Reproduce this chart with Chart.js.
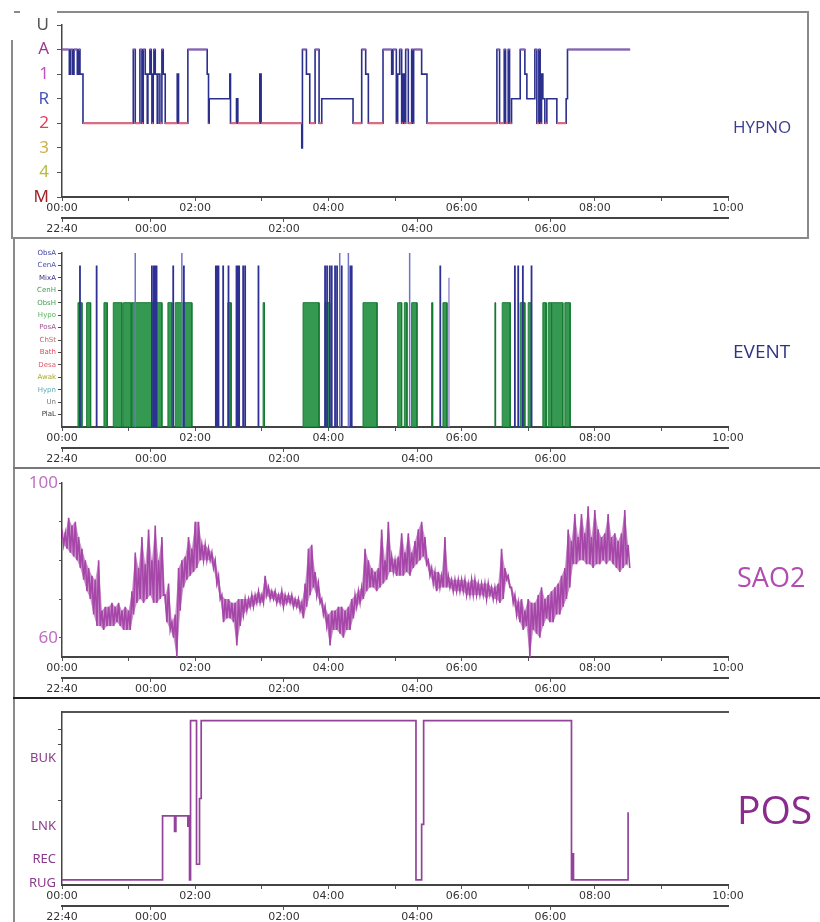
<!DOCTYPE html>
<html><head><meta charset="utf-8">
<script src="https://cdn.jsdelivr.net/npm/chart.js@4/dist/chart.umd.min.js"></script>
<style>
html,body{margin:0;padding:0;background:#fff;}
#wrap{position:relative;width:820px;height:922px;overflow:hidden;background:#fff;}
canvas{position:absolute;left:0;}
.ln{position:absolute;background:#8a8a8a;}
.ttl{position:absolute;font-family:"Open Sans","Noto Sans",sans-serif;white-space:nowrap;line-height:1;}
</style></head><body><div id="wrap">
<canvas id="c1" width="820" height="240" style="top:0px"></canvas>
<canvas id="c2" width="820" height="230" style="top:240px"></canvas>
<canvas id="c3" width="820" height="230" style="top:470px"></canvas>
<canvas id="c4" width="820" height="222" style="top:700px"></canvas>
<div class="ln" style="left:57px;top:11px;width:752px;height:2px"></div>
<div class="ln" style="left:14px;top:11px;width:6px;height:2px"></div>
<div class="ln" style="left:807px;top:11px;width:2px;height:228px"></div>
<div class="ln" style="left:11px;top:40px;width:2px;height:199px"></div>
<div class="ln" style="left:11px;top:237px;width:798px;height:2px"></div>
<div class="ln" style="left:13px;top:239px;width:2px;height:229px"></div>
<div class="ln" style="left:13px;top:467px;width:807px;height:2px;background:#777"></div>
<div class="ln" style="left:13px;top:469px;width:2px;height:229px"></div>
<div class="ln" style="left:13px;top:697px;width:807px;height:2px;background:#222"></div>
<div class="ln" style="left:13px;top:699px;width:2px;height:223px"></div>
<div class="ttl" style="left:733px;top:118px;font-size:17px;color:#3b3d92">HYPNO</div>
<div class="ttl" style="left:733px;top:342px;font-size:19px;color:#2f3288">EVENT</div>
<div class="ttl" style="left:737px;top:563px;font-size:27px;color:#b04cb2">SAO2</div>
<div class="ttl" style="left:737px;top:789px;font-size:39px;color:#8a2c8c">POS</div>
</div>
<script>
// ---------- shared axis labels ----------
const elapsedTickLabels = ['00:00','','02:00','','04:00','','06:00','','08:00','','10:00'];
const clockTickHours = [0, 1.3333, 3.3333, 5.3333, 7.3333];
const clockTickLabels = ['22:40','00:00','02:00','04:00','06:00'];

// ---------- HYPNO ----------
const hypnoStages = ['M','4','3','2','R','1','A','U'];
const hypnoStageColors = ['#a02428','#b5bd3c','#cdb04a','#e0405a','#4a55b5','#c050c0','#9b3a8f','#555555'];
const hypnoTimes = [0.00,0.11,0.13,0.16,0.18,0.23,0.25,0.27,0.315,1.07,1.10,1.17,1.20,1.22,1.25,1.28,1.29,1.32,1.34,1.35,1.37,1.38,1.40,1.43,1.44,1.47,1.50,1.52,1.55,1.73,1.75,1.89,2.18,2.20,2.21,2.52,2.53,2.62,2.64,2.97,2.99,3.60,3.61,3.67,3.72,3.80,3.86,3.90,4.37,4.50,4.56,4.60,4.82,4.95,4.97,5.02,5.04,5.07,5.10,5.12,5.14,5.16,5.20,5.25,5.27,5.28,5.40,5.48,6.53,6.57,6.64,6.66,6.70,6.72,6.75,6.88,6.95,6.98,7.10,7.13,7.16,7.18,7.20,7.22,7.25,7.28,7.43,7.57,7.59,8.53];
const hypnoStage = ['A','1','A','1','A','1','A','1','2','A','2','A','2','A','1','2','1','A','1','2','1','A','1','2','1','2','A','1','2','1','2','A','1','2','R','1','2','R','2','1','2','3','A','1','2','A','2','R','2','A','1','2','A','1','A','2','1','A','2','1','2','A','2','A','2','A','1','2','A','2','A','2','A','2','R','A','1','R','A','2','A','2','1','R','2','R','2','R','A','A'];

// ---------- EVENT ----------
const eventTypes = ['PlaL','Un','Hypn','Awak','Desa','Bath','ChSt','PosA','Hypo','ObsH','CenH','MixA','CenA','ObsA'];
const eventTypeColors = ['#333333','#777777','#5aa8b8','#a8a828','#e05a6a','#e04858','#b86a6a','#a05090','#5cb060','#3f9f50','#3f9f50','#3a2a82','#4a4eb0','#3a3ea0'];
const obsHStart = [0.24,0.37,0.63,0.77,0.92,1.05,1.40,1.59,1.70,2.49,3.02,3.62,3.95,4.52,5.04,5.14,5.25,5.55,5.72,6.50,6.61,6.88,7.00,7.22,7.30,7.36,7.55];
const obsHEnd   = [0.30,0.43,0.68,0.90,1.04,1.37,1.50,1.65,1.95,2.54,3.04,3.86,4.02,4.73,5.10,5.18,5.33,5.565,5.78,6.51,6.73,6.95,7.05,7.27,7.35,7.52,7.63];
const cenATimes = [0.27,0.52,1.35,1.38,1.40,1.42,1.67,1.83,2.31,2.33,2.35,2.42,2.50,2.62,2.64,2.66,2.72,2.75,2.95,3.95,3.98,4.02,4.05,4.10,4.13,4.20,4.33,4.35,5.68,6.80,6.85,6.92,7.05];
const obsATimes = [1.10,1.80,4.17,4.30,5.22];
const mixATimes = [5.81];

// ---------- SAO2 (sampled every 0.05 h: upper / lower excursion) ----------
const sao2StepHours = 0.05;
const sao2High = [88,87,91,89,90,86,83,80,78,76,75,80,67,68,68,69,68,69,67,68,67,72,82,78,86,79,88,80,89,80,86,71,74,64,66,78,80,81,86,83,90,90,84,84,83,82,80,76,71,70,70,69,69,70,70,70,70,71,71,72,71,76,73,72,72,71,72,71,71,71,70,70,69,74,83,84,77,74,70,68,66,67,67,68,68,67,68,70,71,72,73,83,80,78,77,78,88,80,90,81,80,81,87,82,87,82,85,88,90,86,80,78,77,77,76,86,76,75,75,75,75,75,74,75,75,74,74,74,74,73,73,74,83,78,76,73,71,69,70,67,70,69,69,71,73,70,71,72,73,74,76,78,88,85,92,86,92,87,94,86,93,88,86,87,92,86,87,85,87,93,84];
const sao2Low  = [84,83,82,81,80,78,75,72,70,66,63,63,62,63,63,63,64,63,62,62,62,66,69,70,69,70,71,69,69,70,71,64,62,60,55,67,73,75,76,77,78,80,80,80,80,78,74,70,64,65,65,64,58,63,66,67,68,68,69,69,69,71,70,70,69,69,68,69,69,68,68,67,65,68,71,73,71,69,66,63,58,62,62,61,60,62,62,65,68,69,70,72,73,73,72,73,74,75,77,77,76,76,76,77,76,78,79,80,81,79,76,74,72,73,73,73,73,72,72,72,72,71,71,71,71,71,71,70,71,70,70,69,70,75,73,69,66,64,62,63,55,62,61,60,63,65,64,64,66,66,68,70,73,79,79,80,80,79,79,78,79,79,80,79,80,79,78,77,78,79,78,76];

// ---------- POS ----------
const posTickValues = [1, 15, 34, 49, 73, 81, 90];
const posTickLabels = ['RUG','REC','LNK','','BUK','',''];
const posTimes  = [0, 1.51, 1.69, 1.71, 1.89, 1.90, 1.915, 1.93, 2.02, 2.065, 2.09, 5.315, 5.40, 5.43, 7.65, 7.665, 7.68, 8.50];
const posValues = [3, 40,   31,   40,   34,   40,   3,     95,   12,   50,    95,   3,     35,   95,   3,    18,    3,    42];

// ---------- helpers ----------
const tickFont = {family:'DejaVu Sans', size:11};
function xAxes(h1, h2){
  return {
    x: {type:'linear', position:'bottom', min:0, max:10,
      ticks:{stepSize:1, autoSkip:false, maxRotation:0, padding:1, color:'#333', font:tickFont,
        callback:(v)=> elapsedTickLabels[Math.round(v)] || ''},
      grid:{drawOnChartArea:false, drawTicks:true, tickLength:4, color:'#555'},
      border:{display:true, color:'#444', width:2},
      afterFit: s => { s.height = h1; }},
    x2: {type:'linear', position:'bottom', min:0, max:10,
      afterBuildTicks: s => { s.ticks = clockTickHours.map(v => ({value:v})); },
      ticks:{autoSkip:false, maxRotation:0, padding:1, color:'#333', font:tickFont,
        callback:(v,i)=> clockTickLabels[i]},
      grid:{drawOnChartArea:false, tickLength:4, color:'#555'},
      border:{display:true, color:'#444', width:2},
      afterFit: s => { s.height = h2; }}
  };
}
function baseOptions(padTop, padBottom, scales){
  return {
    responsive:false, animation:false, events:[],
    layout:{padding:{left:0, right:92, top:padTop, bottom:padBottom}},
    plugins:{legend:{display:false}, tooltip:{enabled:false}},
    elements:{point:{radius:0}, line:{tension:0}},
    scales: scales
  };
}

// ---------- HYPNO chart ----------
const hypnoPts = hypnoTimes.map((t,i)=>({x:t, y:hypnoStages.indexOf(hypnoStage[i])}));
function stageRuns(stage){
  const out = [];
  for (let i=0;i<hypnoTimes.length-1;i++){
    if (hypnoStage[i]===stage){
      const lv = hypnoStages.indexOf(stage);
      out.push({x:hypnoTimes[i],y:lv},{x:hypnoTimes[i+1],y:lv},{x:hypnoTimes[i+1],y:null});
    }
  }
  return out;
}
new Chart(document.getElementById('c1'), {
  type:'line',
  data:{datasets:[
    {data:stageRuns('2'), borderColor:'#ee6474', borderWidth:2, fill:false, spanGaps:false},
    {data:stageRuns('A'), borderColor:'#8a62b4', borderWidth:2, fill:false, spanGaps:false},
    {data:hypnoPts, stepped:true, borderColor:'#2b2f8c', borderWidth:1.6, fill:false}
  ]},
  options: baseOptions(25, 2, Object.assign(xAxes(21,20), {
    y:{min:0, max:7,
      afterBuildTicks: s => { s.ticks = hypnoStages.map((_,i)=>({value:i})); },
      ticks:{autoSkip:false, padding:8, font:{family:'Noto Sans', size:17},
        color: c => hypnoStageColors[c.index], callback:(v,i)=> hypnoStages[i]},
      grid:{drawOnChartArea:false, tickLength:5, color:'#555'},
      border:{display:true, color:'#444', width:1.5},
      afterFit: s => { s.width = 62; }}
  }))
});

// ---------- EVENT chart ----------
const obsHLevel = eventTypes.indexOf('ObsH') + 1;
const cenALevel = eventTypes.indexOf('CenA') + 1;
const obsALevel = eventTypes.indexOf('ObsA') + 1;
const mixALevel = eventTypes.indexOf('MixA') + 1;
const obsHPts = [];
obsHStart.forEach((s,i)=>{ const e = obsHEnd[i];
  obsHPts.push({x:s,y:0},{x:s,y:obsHLevel},{x:e,y:obsHLevel},{x:e,y:0},{x:e,y:null}); });
function spikes(times, level){ const out=[]; times.forEach(t=>out.push({x:t,y:0},{x:t,y:level},{x:t,y:null})); return out; }
new Chart(document.getElementById('c2'), {
  type:'line',
  data:{datasets:[
    {data:spikes(cenATimes, cenALevel), borderColor:'#2e3192', borderWidth:1.8, fill:false, spanGaps:false},
    {data:spikes(obsATimes, obsALevel), borderColor:'#6f74c6', borderWidth:1.5, fill:false, spanGaps:false},
    {data:spikes(mixATimes, mixALevel), borderColor:'#9a90d0', borderWidth:1.5, fill:false, spanGaps:false},
    {data:obsHPts, borderColor:'#157a32', borderWidth:1, backgroundColor:'rgba(32,142,62,0.9)', fill:'origin', spanGaps:false}
  ]},
  options: baseOptions(13, 2, Object.assign(xAxes(21,20), {
    y:{min:0, max:14,
      afterBuildTicks: s => { s.ticks = eventTypes.map((_,i)=>({value:i+1})); },
      ticks:{autoSkip:false, padding:2, font:{family:'DejaVu Sans', size:7},
        color: c => eventTypeColors[c.index], callback:(v,i)=> eventTypes[i]},
      grid:{drawOnChartArea:false, tickLength:4, color:'#444'},
      border:{display:true, color:'#444', width:1.5},
      afterFit: s => { s.width = 62; }}
  }))
});

// ---------- SAO2 chart ----------
const sao2Pts = [], sao2HiPts = [], sao2LoPts = [];
sao2High.forEach((v,i)=>{ const t = i*sao2StepHours;
  sao2Pts.push({x:t, y:v}, {x:t + sao2StepHours/2, y:sao2Low[i]});
  sao2HiPts.push({x:t, y:v});
  sao2LoPts.push({x:t + sao2StepHours/2, y:sao2Low[i]}); });
const sao2TickValues = [60,70,80,90,100];
const sao2TickLabels = ['60','','','','100'];
new Chart(document.getElementById('c3'), {
  type:'line',
  data:{datasets:[
    {data:sao2Pts, borderColor:'#a546a8', borderWidth:1.6, fill:false},
    {data:sao2HiPts, borderColor:'rgba(0,0,0,0)', borderWidth:0, fill:false},
    {data:sao2LoPts, borderColor:'rgba(0,0,0,0)', borderWidth:0, fill:'-1', backgroundColor:'rgba(168,74,170,0.6)'}
  ]},
  options: baseOptions(13, 2, Object.assign(xAxes(21,20), {
    y:{min:55, max:100,
      afterBuildTicks: s => { s.ticks = sao2TickValues.map(v=>({value:v})); },
      ticks:{autoSkip:false, padding:1, font:{family:'Noto Sans', size:17}, color:'#c070c2',
        callback:(v,i)=> sao2TickLabels[i]},
      grid:{drawOnChartArea:false, tickLength:3, color:'#555'},
      border:{display:true, color:'#444', width:1.5},
      afterFit: s => { s.width = 62; }}
  }))
});

// ---------- POS chart ----------
const posPts = posTimes.map((t,i)=>({x:t, y:posValues[i]}));
new Chart(document.getElementById('c4'), {
  type:'line',
  data:{datasets:[
    {data:posPts, stepped:true, borderColor:'#93449a', borderWidth:1.7, fill:false}
  ]},
  options: baseOptions(12, 0, Object.assign(xAxes(21,16), {
    xt:{type:'linear', position:'top', min:0, max:10,
      ticks:{display:false}, grid:{drawOnChartArea:false, drawTicks:false},
      border:{display:true, color:'#555', width:2},
      afterFit: s => { s.height = 0; }},
    y:{min:0, max:100,
      afterBuildTicks: s => { s.ticks = posTickValues.map(v=>({value:v})); },
      ticks:{autoSkip:false, padding:2, font:{family:'Noto Sans', size:13}, color:'#8a3a8c',
        callback:(v,i)=> posTickLabels[i]},
      grid:{drawOnChartArea:false, tickLength:4,
        color: c => (c.tick && posTickLabels[c.index] === '') ? '#444' : 'rgba(0,0,0,0)'},
      border:{display:true, color:'#444', width:1.5},
      afterFit: s => { s.width = 62; }}
  }))
});
</script>
</body></html>
